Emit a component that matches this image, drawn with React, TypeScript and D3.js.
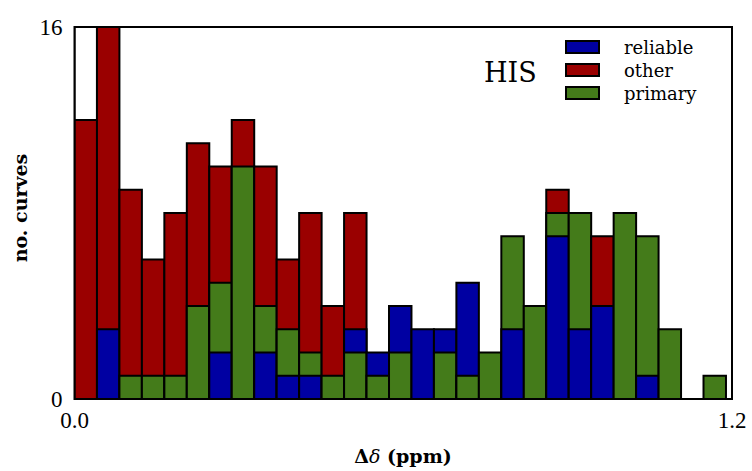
import React from "react";
import * as d3 from "d3";

// Histogram heights per bin (bin width 0.041 ppm, starting at 0.0)
const binWidth = 0.041;
const reliable = [0, 3, 0, 0, 0, 0, 2, 0, 2, 1, 1, 0, 3, 2, 4, 3, 3, 5, 0, 3, 0, 7, 3, 4, 0, 1, 0, 0, 0];
const primary = [0, 0, 1, 1, 1, 4, 5, 10, 4, 3, 2, 1, 2, 1, 2, 0, 2, 1, 2, 7, 4, 8, 8, 0, 8, 7, 3, 0, 1];
const other = [12, 16, 9, 6, 8, 11, 10, 12, 10, 6, 8, 4, 8, 0, 0, 0, 0, 0, 0, 0, 0, 9, 0, 7, 0, 0, 0, 0, 0];
const unassigned = [16, 0, 0, 0, 0, 0, 0, 0, 0, 0, 0, 0, 0, 0, 0, 0, 0, 0, 0, 0, 0, 0, 0, 0, 0, 0, 0, 0, 0];

const seriesNames = ["reliable", "other", "primary"];
const seriesColors: Record<string, string> = {
  reliable: "#0000a2",
  other: "#9a0000",
  primary: "#447b1a",
  unassigned: "#ffffff",
};
const xTicks = [0, 1.2];
const yTicks = [0, 16];

const W = 752;
const H = 471;
const L = 74.5, R = 732, T = 27, B = 399;
const FONT = "'Liberation Serif', 'DejaVu Serif', serif";
const FONT2 = "'DejaVu Serif', serif";

export default function App() {
  const x = d3.scaleLinear().domain([0, 1.2]).range([L, R]);
  const y = d3.scaleLinear().domain([0, 16]).range([B, T]);

  const data: Record<string, number[]> = { reliable, primary, other, unassigned };
  const rects: React.ReactNode[] = [];
  reliable.forEach((_, i) => {
    const items = Object.keys(data)
      .map((k) => ({ k, v: data[k][i] }))
      .filter((d) => d.v > 0)
      .sort((a, b) => b.v - a.v);
    const x0 = x(i * binWidth);
    const x1 = x((i + 1) * binWidth);
    items.forEach((d) => {
      rects.push(
        <rect
          key={`${i}-${d.k}`}
          x={x0}
          y={y(d.v)}
          width={x1 - x0}
          height={y(0) - y(d.v)}
          fill={seriesColors[d.k]}
          stroke="#000"
          strokeWidth={2}
        />
      );
    });
  });

  return (
    <svg width={W} height={H} style={{ position: "absolute", left: 0, top: 0, background: "#fff" }}>
      <defs>
        <clipPath id="plot">
          <rect x={L} y={T - 2} width={R - L} height={B - T + 4} />
        </clipPath>
      </defs>
      <g clipPath="url(#plot)">{rects}</g>
      <rect x={L} y={T} width={R - L} height={B - T} fill="none" stroke="#000" strokeWidth={2} />
      {yTicks.map((t) => (
        <text key={`y${t}`} x={L - 12} y={y(t) + 8} textAnchor="end" fontFamily={FONT} fontSize={23}>
          {t}
        </text>
      ))}
      {xTicks.map((t) => (
        <text key={`x${t}`} x={x(t)} y={B + 29} textAnchor="middle" fontFamily={FONT} fontSize={23}>
          {t.toFixed(1)}
        </text>
      ))}
      <text x={403} y={463} textAnchor="middle" fontFamily={FONT2} fontSize={19} fontWeight="bold">
        Δ<tspan fontStyle="italic" fontWeight="normal">δ</tspan> (ppm)
      </text>
      <text
        transform={`translate(27,${(T + B) / 2 - 5}) rotate(-90)`}
        textAnchor="middle"
        fontFamily={FONT2}
        fontSize={19}
        fontWeight="bold"
      >
        no. curves
      </text>
      <text x={484} y={82} fontFamily={FONT2} fontSize={27}>HIS</text>
      {seriesNames.map((s, i) => (
        <g key={s}>
          <rect x={566} y={41 + i * 23} width={33} height={12} fill={seriesColors[s]} stroke="#000" strokeWidth={2} />
          <text x={624} y={54 + i * 23} fontFamily={FONT2} fontSize={18}>{s}</text>
        </g>
      ))}
    </svg>
  );
}
